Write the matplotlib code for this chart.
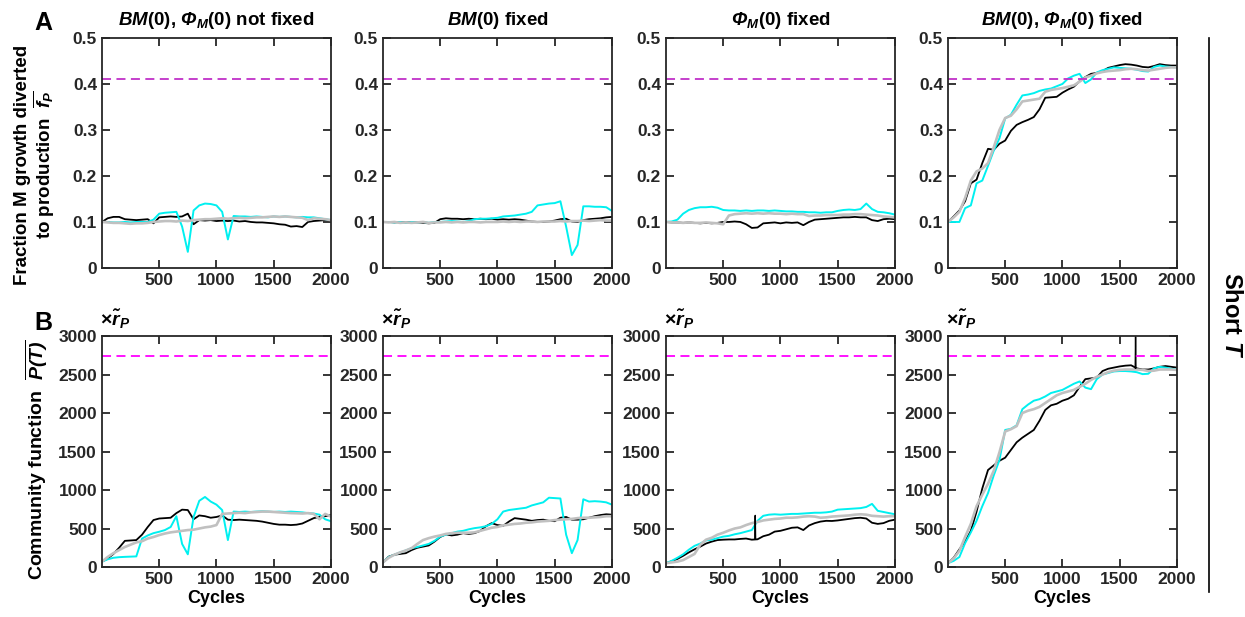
import matplotlib
matplotlib.use("Agg")
import matplotlib.pyplot as plt
from matplotlib.lines import Line2D

# cycle grid shared by all traces (every 50 cycles)
cycles = list(range(0, 2001, 50))

titles = [r"$BM$(0), $\Phi_M$(0) not fixed", r"$BM$(0) fixed",
          r"$\Phi_M$(0) fixed", r"$BM$(0), $\Phi_M$(0) fixed"]

fp_target = 0.41
p_target = 2740

# ---- row A: fraction of M growth diverted to production ----
fp_nofix_black = [0.100, 0.108, 0.111, 0.111, 0.106, 0.105, 0.104, 0.105, 0.106, 0.097,
                  0.110, 0.111, 0.112, 0.111, 0.112, 0.118, 0.095, 0.104, 0.103, 0.104,
                  0.102, 0.103, 0.102, 0.103, 0.101, 0.102, 0.100, 0.099, 0.099, 0.098,
                  0.097, 0.095, 0.094, 0.090, 0.091, 0.089, 0.100, 0.102, 0.103, 0.104, 0.104]
fp_nofix_cyan = [0.100, 0.100, 0.099, 0.099, 0.100, 0.099, 0.100, 0.100, 0.100, 0.105,
                 0.118, 0.120, 0.121, 0.122, 0.090, 0.035, 0.125, 0.136, 0.140, 0.139,
                 0.136, 0.122, 0.062, 0.113, 0.112, 0.112, 0.111, 0.112, 0.111, 0.110,
                 0.112, 0.111, 0.112, 0.111, 0.110, 0.111, 0.110, 0.110, 0.108, 0.106, 0.104]
fp_nofix_gray = [0.100, 0.099, 0.098, 0.098, 0.097, 0.096, 0.097, 0.097, 0.098, 0.100,
                 0.101, 0.102, 0.102, 0.101, 0.103, 0.102, 0.104, 0.105, 0.106, 0.106,
                 0.107, 0.108, 0.107, 0.108, 0.109, 0.108, 0.109, 0.110, 0.110, 0.111,
                 0.112, 0.111, 0.112, 0.111, 0.110, 0.109, 0.104, 0.108, 0.107, 0.106, 0.104]

fp_bm_black = [0.100, 0.100, 0.099, 0.100, 0.099, 0.100, 0.099, 0.098, 0.097, 0.098,
               0.106, 0.108, 0.107, 0.107, 0.106, 0.107, 0.106, 0.107, 0.106, 0.107,
               0.105, 0.106, 0.105, 0.106, 0.105, 0.103, 0.101, 0.100, 0.100, 0.101,
               0.103, 0.106, 0.107, 0.101, 0.100, 0.104, 0.106, 0.107, 0.108, 0.110, 0.111]
fp_bm_cyan = [0.100, 0.100, 0.099, 0.100, 0.098, 0.100, 0.099, 0.100, 0.098, 0.100,
              0.100, 0.101, 0.102, 0.101, 0.100, 0.102, 0.106, 0.107, 0.107, 0.108,
              0.109, 0.112, 0.113, 0.114, 0.116, 0.118, 0.122, 0.136, 0.138, 0.140,
              0.141, 0.145, 0.090, 0.028, 0.050, 0.134, 0.134, 0.133, 0.133, 0.132, 0.124]
fp_bm_gray = [0.100, 0.099, 0.100, 0.098, 0.099, 0.098, 0.099, 0.100, 0.098, 0.099,
              0.099, 0.100, 0.099, 0.100, 0.099, 0.100, 0.100, 0.099, 0.100, 0.100,
              0.100, 0.101, 0.100, 0.101, 0.100, 0.101, 0.101, 0.100, 0.101, 0.101,
              0.101, 0.102, 0.101, 0.102, 0.102, 0.103, 0.102, 0.103, 0.104, 0.103, 0.103]

fp_phi_black = [0.100, 0.099, 0.099, 0.098, 0.099, 0.098, 0.097, 0.098, 0.097, 0.098,
                0.100, 0.100, 0.101, 0.100, 0.095, 0.087, 0.088, 0.097, 0.098, 0.099,
                0.097, 0.099, 0.098, 0.099, 0.093, 0.100, 0.105, 0.106, 0.107, 0.108,
                0.109, 0.110, 0.110, 0.111, 0.110, 0.110, 0.104, 0.102, 0.106, 0.107, 0.106]
fp_phi_cyan = [0.100, 0.101, 0.105, 0.118, 0.126, 0.130, 0.132, 0.132, 0.133, 0.131,
               0.126, 0.125, 0.125, 0.124, 0.125, 0.124, 0.125, 0.125, 0.124, 0.125,
               0.124, 0.123, 0.123, 0.122, 0.122, 0.121, 0.121, 0.120, 0.121, 0.121,
               0.124, 0.126, 0.127, 0.126, 0.128, 0.140, 0.128, 0.122, 0.121, 0.119, 0.116]
fp_phi_gray = [0.100, 0.099, 0.099, 0.098, 0.099, 0.098, 0.098, 0.099, 0.098, 0.097,
               0.095, 0.114, 0.117, 0.118, 0.119, 0.118, 0.119, 0.118, 0.119, 0.118,
               0.118, 0.117, 0.118, 0.117, 0.117, 0.113, 0.114, 0.114, 0.115, 0.115,
               0.115, 0.116, 0.116, 0.117, 0.117, 0.116, 0.115, 0.114, 0.112, 0.111, 0.110]

fp_both_black = [0.100, 0.112, 0.125, 0.145, 0.184, 0.192, 0.228, 0.259, 0.257, 0.270,
                 0.277, 0.298, 0.311, 0.317, 0.322, 0.328, 0.345, 0.370, 0.371, 0.372,
                 0.381, 0.388, 0.394, 0.406, 0.415, 0.422, 0.424, 0.428, 0.435, 0.438,
                 0.441, 0.443, 0.442, 0.440, 0.437, 0.436, 0.439, 0.443, 0.441, 0.440, 0.440]
fp_both_cyan = [0.100, 0.100, 0.100, 0.130, 0.136, 0.184, 0.190, 0.222, 0.255, 0.282,
                0.325, 0.333, 0.355, 0.375, 0.377, 0.380, 0.385, 0.388, 0.390, 0.395,
                0.400, 0.412, 0.418, 0.422, 0.402, 0.410, 0.425, 0.430, 0.433, 0.436,
                0.435, 0.434, 0.433, 0.431, 0.428, 0.427, 0.437, 0.440, 0.438, 0.437, 0.436]
fp_both_gray = [0.100, 0.110, 0.122, 0.152, 0.190, 0.210, 0.216, 0.228, 0.262, 0.300,
                0.326, 0.331, 0.345, 0.362, 0.364, 0.366, 0.368, 0.383, 0.387, 0.389,
                0.391, 0.394, 0.397, 0.405, 0.414, 0.418, 0.423, 0.426, 0.428, 0.429,
                0.430, 0.432, 0.433, 0.432, 0.430, 0.429, 0.431, 0.433, 0.435, 0.436, 0.436]

# ---- row B: community function ----
p_nofix_black = [70, 110, 170, 250, 340, 345, 350, 420, 520, 610,
                 630, 635, 640, 700, 745, 740, 620, 670, 660, 640,
                 650, 670, 615, 610, 615, 610, 605, 600, 590, 575,
                 560, 550, 550, 545, 550, 565, 600, 635, 650, 660, 675]
p_nofix_cyan = [70, 100, 120, 128, 132, 135, 138, 370, 410, 440,
                458, 480, 520, 660, 300, 165, 650, 860, 910, 850,
                810, 740, 350, 720, 715, 720, 715, 720, 725, 720,
                715, 720, 715, 720, 715, 710, 700, 695, 680, 620, 595]
p_nofix_gray = [70, 130, 180, 220, 260, 290, 320, 335, 370, 390,
                415, 435, 450, 460, 470, 480, 485, 500, 515, 525,
                545, 690, 695, 700, 705, 700, 710, 715, 720, 720,
                715, 710, 705, 700, 698, 695, 700, 690, 620, 690, 655]

p_bm_black = [60, 135, 160, 170, 180, 220, 250, 265, 280, 330,
              390, 425, 410, 420, 440, 430, 440, 470, 530, 570,
              545, 535, 590, 635, 625, 615, 600, 610, 615, 600,
              595, 640, 650, 615, 615, 620, 640, 660, 675, 685, 680]
p_bm_cyan = [60, 130, 160, 190, 215, 245, 260, 280, 300, 340,
             395, 420, 440, 460, 470, 490, 505, 515, 530, 560,
             620, 720, 740, 750, 760, 770, 800, 820, 840, 900,
             895, 890, 420, 180, 350, 880, 850, 855, 850, 840, 810]
p_bm_gray = [60, 120, 160, 190, 215, 245, 300, 350, 375, 395,
             410, 430, 440, 445, 445, 445, 450, 470, 490, 510,
             520, 540, 550, 560, 565, 575, 580, 590, 595, 600,
             610, 615, 620, 625, 635, 640, 640, 645, 650, 660, 660]

p_phi_black = [50, 75, 105, 145, 190, 230, 265, 305, 330, 350,
               355, 358, 358, 365, 370, 355, 360, 400, 420, 460,
               470, 490, 510, 515, 480, 540, 570, 590, 600, 598,
               605, 615, 625, 635, 640, 630, 575, 560, 570, 600, 615]
p_phi_cyan = [50, 80, 120, 165, 225, 275, 305, 345, 355, 375,
              395, 405, 425, 440, 460, 480, 600, 665, 680, 685,
              680, 685, 690, 690, 695, 700, 705, 705, 710, 720,
              745, 750, 755, 760, 765, 780, 820, 730, 715, 700, 685]
p_phi_gray = [50, 60, 70, 90, 130, 170, 290, 355, 380, 420,
              445, 475, 500, 515, 545, 570, 585, 605, 615, 625,
              630, 640, 640, 645, 655, 660, 655, 640, 645, 655,
              660, 665, 670, 680, 685, 680, 665, 660, 655, 660, 660]

p_both_black = [50, 120, 230, 330, 470, 720, 1020, 1260, 1320, 1380,
                1420, 1520, 1620, 1680, 1730, 1780, 1900, 2040, 2100, 2120,
                2160, 2185, 2230, 2340, 2440, 2450, 2460, 2545, 2575, 2590,
                2605, 2615, 2620, 2580, 2565, 2565, 2580, 2600, 2610, 2600, 2590]
p_both_cyan = [50, 80, 130, 310, 450, 600, 790, 960, 1190, 1390,
               1780, 1795, 1840, 2050, 2110, 2160, 2180, 2215, 2260, 2280,
               2300, 2340, 2380, 2410, 2330, 2310, 2440, 2500, 2520, 2540,
               2545, 2545, 2540, 2530, 2505, 2510, 2580, 2600, 2590, 2575, 2565]
p_both_gray = [50, 110, 210, 390, 560, 790, 940, 1080, 1250, 1490,
               1760, 1790, 1830, 2000, 2030, 2050, 2080, 2130, 2180, 2230,
               2260, 2280, 2300, 2340, 2380, 2430, 2470, 2500, 2530, 2550,
               2560, 2565, 2565, 2565, 2560, 2545, 2550, 2565, 2565, 2565, 2560]

# narrow one-cycle spikes in the black traces
spike_phi_x = [777, 780, 783]
spike_phi_y = [360, 670, 360]
spike_both_x = [1636, 1639, 1642]
spike_both_y = [2585, 2990, 2585]

AX_COLOR = "#262626"


def style_axes(ax):
    for sp in ax.spines.values():
        sp.set_color(AX_COLOR)
        sp.set_linewidth(1.3)
    ax.tick_params(direction="in", top=True, right=True, length=6, width=1.3,
                   colors=AX_COLOR, labelsize=12.5)
    ax.set_xlim(0, 2000)
    ax.set_xticks([500, 1000, 1500, 2000])
    for lab in ax.get_xticklabels() + ax.get_yticklabels():
        lab.set_fontweight("bold")


def draw_traces(ax, black, cyan, gray):
    ax.plot(cycles, black, color="black", lw=1.3)
    ax.plot(cycles, cyan, color="#00f0f0", lw=1.4)
    ax.plot(cycles, gray, color="#c0c0c0", lw=1.9)


def main():
    plt.rcParams["font.family"] = "Liberation Sans"
    plt.rcParams["font.weight"] = "bold"
    plt.rcParams["mathtext.fontset"] = "custom"
    plt.rcParams["mathtext.rm"] = "Liberation Sans:bold:italic"
    plt.rcParams["mathtext.it"] = "Liberation Sans:bold:italic"
    plt.rcParams["mathtext.bf"] = "Liberation Sans:bold"

    fig = plt.figure(figsize=(12.45, 6.17), dpi=100)
    lefts = [0.0819, 0.3076, 0.5349, 0.7614]
    w = 0.1839

    top_data = [(fp_nofix_black, fp_nofix_cyan, fp_nofix_gray),
                (fp_bm_black, fp_bm_cyan, fp_bm_gray),
                (fp_phi_black, fp_phi_cyan, fp_phi_gray),
                (fp_both_black, fp_both_cyan, fp_both_gray)]
    bot_data = [(p_nofix_black, p_nofix_cyan, p_nofix_gray),
                (p_bm_black, p_bm_cyan, p_bm_gray),
                (p_phi_black, p_phi_cyan, p_phi_gray),
                (p_both_black, p_both_cyan, p_both_gray)]

    for i in range(4):
        # row A
        ax = fig.add_axes([lefts[i], 0.5657, w, 0.3728])
        draw_traces(ax, *top_data[i])
        ax.axhline(fp_target, color="#c030c8", ls="--", lw=1.3, dashes=(5, 3))
        ax.set_ylim(0, 0.5)
        ax.set_yticks([0, 0.1, 0.2, 0.3, 0.4, 0.5])
        ax.set_yticklabels(["0", "0.1", "0.2", "0.3", "0.4", "0.5"])
        style_axes(ax)
        ax.set_title(titles[i], fontsize=13.5, fontweight="bold", pad=9)
        if i == 0:
            ax.set_ylabel("Fraction M growth diverted\nto production  $\\overline{f_P}$",
                          fontsize=13.5, fontweight="bold", linespacing=1.05)
            ax.yaxis.set_label_coords(-0.195, 0.45)

        # row B
        ax = fig.add_axes([lefts[i], 0.0810, w, 0.3744])
        draw_traces(ax, *bot_data[i])
        if i == 2:
            ax.plot(spike_phi_x, spike_phi_y, color="black", lw=1.0)
        if i == 3:
            ax.plot(spike_both_x, spike_both_y, color="black", lw=1.0)
        ax.axhline(p_target, color="#ff00ff", ls="--", lw=1.3, dashes=(5, 3))
        ax.set_ylim(0, 3000)
        ax.set_yticks([0, 500, 1000, 1500, 2000, 2500, 3000])
        style_axes(ax)
        ax.set_xlabel("Cycles", fontsize=13, fontweight="bold", labelpad=2)
        ax.text(-0.01, 1.02, "×$\\tilde{r}_P$", transform=ax.transAxes,
                fontsize=14, fontweight="bold", ha="left", va="bottom")
        if i == 0:
            ax.set_ylabel("Community function  $\\overline{P(T)}$",
                          fontsize=14, fontweight="bold")
            ax.yaxis.set_label_coords(-0.225, 0.465)

    fig.text(0.028, 0.962, "A", fontsize=18, fontweight="bold", ha="left", va="center")
    fig.text(0.028, 0.476, "B", fontsize=18, fontweight="bold", ha="left", va="center")

    # right-hand bracket and row label
    fig.add_artist(Line2D([0.971, 0.971], [0.04, 0.938], color="black", lw=1.2))
    fig.text(0.989, 0.49, "Short $T$", fontsize=17, fontweight="bold",
             rotation=-90, ha="center", va="center")

    fig.savefig("out.png", dpi=100)
    plt.close(fig)


if __name__ == "__main__":
    main()
